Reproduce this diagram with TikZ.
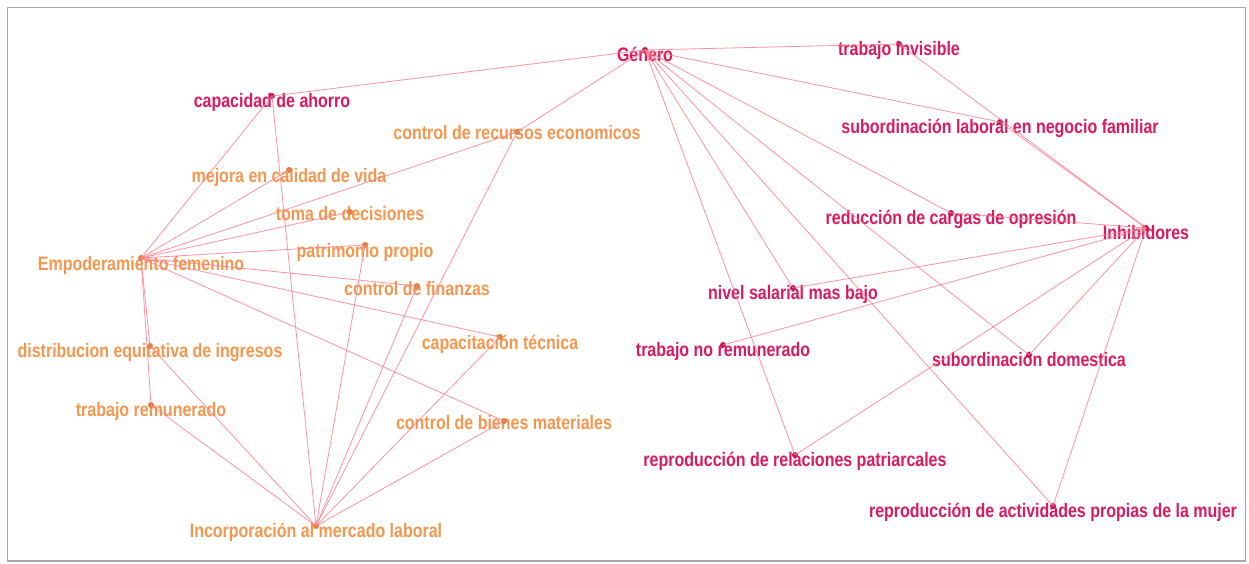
\documentclass[tikz,border=0pt]{standalone}
\usepackage{fontspec}
\newfontfamily\lblfont{Liberation Sans}[FakeStretch=0.82]
\definecolor{mag}{HTML}{D81B60}
\definecolor{org}{HTML}{F5964F}
\definecolor{magdot}{HTML}{C2185B}
\definecolor{orgdot}{HTML}{D98440}
\definecolor{edgec}{HTML}{FF7F8C}
\definecolor{framec}{HTML}{A8A8A8}
\tikzset{
  lbl/.style={anchor=base, inner sep=0pt, font=\lblfont\bfseries\fontsize{19.5}{22}\selectfont},
  mlbl/.style={lbl, text=mag},
  olbl/.style={lbl, text=org},
  mdot/.style={circle, fill=magdot, inner sep=0pt, minimum size=6pt},
  odot/.style={circle, fill=orgdot, inner sep=0pt, minimum size=6pt},
  edge/.style={draw=edgec, line width=0.8pt, draw opacity=0.85}
}
\begin{document}
\begin{tikzpicture}[x=1pt, y=-1pt]
\useasboundingbox (0,0) rectangle (1249,563);
\draw[framec, line width=1.5pt] (7.5,7.5) rectangle (1245.5,561);

% labels
\node[mlbl] (tgen) at (645,61) {Género};
\node[mlbl] (tinv) at (899,55) {trabajo invisible};
\node[mlbl] (tslf) at (1000,133) {subordinación laboral en negocio familiar};
\node[mlbl] (tred) at (951,224) {reducción de cargas de opresión};
\node[mlbl] (tinh) at (1146,239) {Inhibidores};
\node[mlbl] (tniv) at (793,299) {nivel salarial mas bajo};
\node[mlbl] (ttnr) at (723,356) {trabajo no remunerado};
\node[mlbl] (tsdo) at (1029,366) {subordinación domestica};
\node[mlbl] (trrp) at (795,466) {reproducción de relaciones patriarcales};
\node[mlbl] (trap) at (1053,517) {reproducción de actividades propias de la mujer};
\node[mlbl] (tcah) at (272,107) {capacidad de ahorro};
\node[olbl] (tcre) at (517,139) {control de recursos economicos};
\node[olbl] (tmcv) at (289,182) {mejora en calidad de vida};
\node[olbl] (ttdd) at (350,220) {toma de decisiones};
\node[olbl] (tpat) at (365,257) {patrimonio propio};
\node[olbl] (tcfi) at (417,295) {control de finanzas};
\node[olbl] (tcap) at (500,349) {capacitación técnica};
\node[olbl] (tcbm) at (504,429) {control de bienes materiales};
\node[olbl] (temp) at (141,270) {Empoderamiento femenino};
\node[olbl] (tdeq) at (150,357) {distribucion equitativa de ingresos};
\node[olbl] (ttrm) at (151,416) {trabajo remunerado};
\node[olbl] (tinc) at (316,537) {Incorporación al mercado laboral};

% dots
\node[mdot] (gen) at (645,50) {};
\node[mdot] (inv) at (899,44) {};
\node[mdot] (slf) at (1000,122) {};
\node[mdot] (red) at (951,213) {};
\node[mdot] (inh) at (1146,228) {};
\node[mdot] (niv) at (793,288) {};
\node[mdot] (tnr) at (723,345) {};
\node[mdot] (sdo) at (1029,355) {};
\node[mdot] (rrp) at (795,455) {};
\node[mdot] (rap) at (1053,506) {};
\node[mdot] (cah) at (272,96) {};
\node[odot] (cre) at (517,132) {};
\node[odot] (mcv) at (289,170) {};
\node[odot] (tdd) at (350,212) {};
\node[odot] (pat) at (365,245) {};
\node[odot] (cfi) at (417,286) {};
\node[odot] (cap) at (500,337) {};
\node[odot] (cbm) at (504,421) {};
\node[odot] (emp) at (141,258) {};
\node[odot] (deq) at (150,346) {};
\node[odot] (trm) at (151,405) {};
\node[odot] (inc) at (316,526) {};

% edges
\foreach \a/\b in {gen/cah, gen/cre, gen/inv, gen/slf, gen/red, gen/niv, gen/rrp, gen/sdo, gen/rap,
  inh/inv, inh/slf, inh/red, inh/niv, inh/tnr, inh/rrp, inh/sdo, inh/rap,
  emp/cah, emp/mcv, emp/cre, emp/tdd, emp/pat, emp/cfi, emp/cap, emp/cbm, emp/deq, emp/trm,
  inc/cah, inc/cre, inc/pat, inc/cfi, inc/cap, inc/cbm, inc/deq, inc/trm}
  \draw[edge] (\a.center) -- (\b.center);
\end{tikzpicture}
\end{document}
